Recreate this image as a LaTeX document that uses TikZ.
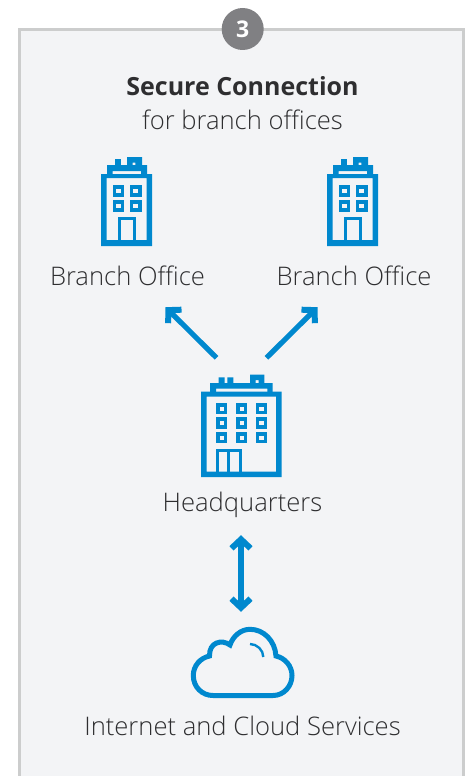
\documentclass[tikz,border=0pt]{standalone}
\usepackage{fontspec}
\setmainfont{Open Sans}[UprightFont=* Light, BoldFont=* Bold]
\usetikzlibrary{positioning, arrows.meta, calc}
\definecolor{office_blue}{HTML}{0088CE}
\definecolor{frame_gray}{HTML}{CCCDCD}
\definecolor{panel_gray}{HTML}{F3F4F6}
\definecolor{badge_gray}{HTML}{808083}
\definecolor{text_gray}{HTML}{2E2E30}
\tikzstyle{label} = [inner sep=0pt, text=text_gray, anchor=base, font=\fontsize{25.6}{30}\selectfont]
\tikzstyle{icon} = [inner sep=0pt, minimum width=51pt, minimum height=89pt]
\tikzstyle{arrow} = [line width=5.2pt, draw=office_blue, -{Straight Barb[length=9pt, width=19pt, line width=6pt]}]
\tikzstyle{arrow_both} = [line width=5.2pt, draw=office_blue, {Straight Barb[length=9pt, width=19pt, line width=6pt]}-{Straight Barb[length=9pt, width=19pt, line width=6pt]}]
\tikzstyle{window} = [draw=office_blue, line width=3.5pt]
\tikzstyle{door} = [draw=office_blue, line width=3pt]
\tikzset{branch_building/.pic={
    \fill[office_blue, even odd rule] (-25.5,-27.5) rectangle (25.5,44.5) (-20,-23.5) rectangle (20,38.5);
    \fill[office_blue, even odd rule] (-19.5,-36.5) rectangle (20.5,-27.5) (-13.8,-30.5) rectangle (14.5,-27.5);
    \fill[office_blue] (-11.5,-42.5) rectangle (-5.5,-36.5);
    \fill[office_blue, even odd rule] (0.5,-44.5) rectangle (15.5,-36.5) (6.2,-38.8) rectangle (8.8,-36.5);
    \draw[window] (-12,-14.7) rectangle (-4.2,-6.6) (5,-14.7) rectangle (13.4,-6.6) (-12,0.3) rectangle (-4.2,8.4) (5,0.3) rectangle (13.4,8.4);
    \draw[door] (-6.7,40) -- (-6.7,16.7) -- (7.7,16.7) -- (7.7,40);
}}
\begin{document}
\begin{tikzpicture}[x=1pt, y=-1pt]
        \useasboundingbox (0,0) rectangle (471,776);
        \fill[panel_gray] (19.5,29.5) rectangle (463.5,776);
        \draw[frame_gray, line width=3pt] (19.5,776) -- (19.5,29.5) -- (463.5,29.5) -- (463.5,776);

        \node (badge) [circle, fill=badge_gray, inner sep=0pt, minimum size=42pt, text=white, font=\bfseries\fontsize{23}{26}\selectfont] at (242.7,29) {3};
        \node (title) [label, font=\bfseries\fontsize{25}{30}\selectfont] at (242.5,95) {Secure Connection};
        \node (subtitle) [label] at (242.5,129.5) {for branch offices};

        \node (branch_left_icon) [icon] at (126.5,201.5) {};
        \node (branch_right_icon) [icon] at (352.5,201.5) {};
        \node (hq_icon) [icon, minimum width=81pt, minimum height=102pt] at (241.5,426) {};
        \node (cloud_icon) [icon, minimum width=103pt, minimum height=71pt] at (242.5,662.5) {};
        \pic at (branch_left_icon) {branch_building};
        \pic at (branch_right_icon) {branch_building};

        \node (branch_left) [label] at (127.5,285.5) {Branch Office};
        \node (branch_right) [label] at (354,285.5) {Branch Office};
        \node (hq) [label] at (242.5,511.5) {Headquarters};
        \node (cloud) [label] at (242.5,735) {Internet and Cloud Services};

        \fill[office_blue, even odd rule] (201,391.7) rectangle (281.7,477) (206.7,396.7) rectangle (276,471.7);
        \fill[office_blue, even odd rule] (210,383) rectangle (272.7,392) (216,388.7) rectangle (267.3,392);
        \fill[office_blue] (218.7,377.3) rectangle (224.7,383) (227.3,377.3) rectangle (233.3,383);
        \fill[office_blue, even odd rule] (250,374.7) rectangle (264.3,383) (255.7,380) rectangle (258.7,383);
        \draw[window] (217.75,404.75) rectangle (225.5,412.5) (237.75,404.75) rectangle (245.5,412.5) (257.5,404.75) rectangle (265.5,412.5);
        \draw[window] (217.75,419) rectangle (225.5,427) (237.75,419) rectangle (245.5,427) (257.5,419) rectangle (265.5,427);
        \draw[window] (217.75,433.75) rectangle (225.5,441.5) (237.75,433.75) rectangle (245.5,441.5) (257.5,433.75) rectangle (265.5,441.5);
        \draw[door] (217.5,472) -- (217.5,450.5) -- (240.2,450.5) -- (240.2,472) (228.5,450.5) -- (228.5,472);

        \draw[office_blue, line width=5pt] (213,695.5) -- (273,695.5) .. controls (284,695.5) and (292,686) .. (292,675.5) .. controls (292,666) and (285,658) .. (276,656) .. controls (275,641) and (264,629.3) .. (250,629.3) .. controls (241,629.3) and (233,636) .. (230,645) .. controls (222,639) and (209,642) .. (209.5,656) .. controls (200,658) and (193.3,666) .. (193.3,675.5) .. controls (193.3,687) and (202,695.5) .. (213,695.5) -- cycle;
        \draw[office_blue, line width=2.4pt] (250,644) .. controls (257,644) and (263.3,650) .. (263.3,657);

        \draw [arrow] ([xshift=-25pt, yshift=17pt]hq_icon.north) -- ([xshift=39pt, yshift=-61pt]branch_left_icon.south);
        \draw [arrow] ([xshift=25pt, yshift=17pt]hq_icon.north) -- ([xshift=-35pt, yshift=-61pt]branch_right_icon.south);
        \draw [arrow_both] ([xshift=-0.5pt, yshift=-58pt]hq_icon.south) -- ([xshift=-1.5pt, yshift=15pt]cloud_icon.north);
    \end{tikzpicture}
\end{document}
